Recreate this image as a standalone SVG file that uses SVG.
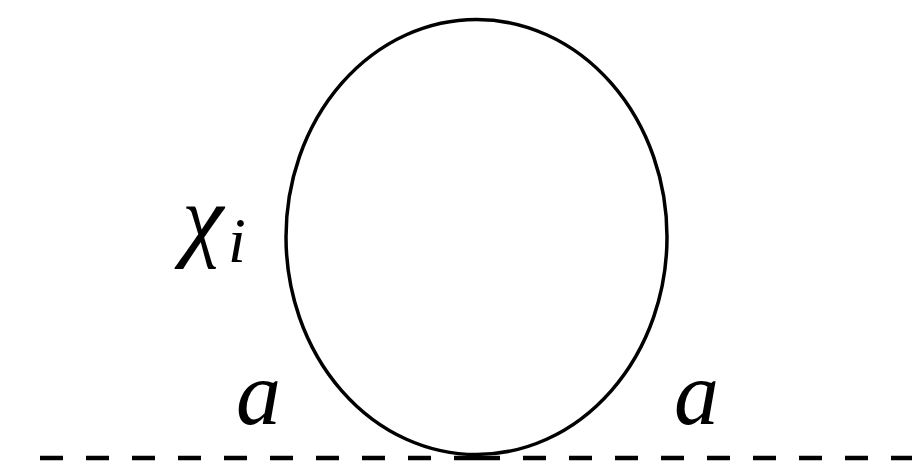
<svg xmlns="http://www.w3.org/2000/svg" width="912" height="463" viewBox="0 0 912 463">
<style>
.lbl{font-family:"Liberation Serif","Times New Roman",serif;font-style:italic;fill:#000}
.dash{stroke:#000;stroke-width:4.5;stroke-dasharray:23 23;fill:none}
</style>
<rect width="912" height="463" fill="#fff"/>
<g id="connectors">
<line class="dash" x1="40" y1="458" x2="477" y2="458"/>
<line class="dash" x1="477" y1="458" x2="912" y2="458"/>
</g>
<g id="loop">
<ellipse cx="476.5" cy="237" rx="190.5" ry="217.5" fill="none" stroke="#000" stroke-width="3.5"/>
</g>
<g id="label-chi">
<text class="lbl" x="182" y="249" font-size="94">χ</text>
<text class="lbl" x="228" y="262" font-size="64">i</text>
</g>
<g id="label-a-left"><text class="lbl" x="236" y="424" font-size="90">a</text></g>
<g id="label-a-right"><text class="lbl" x="674" y="424" font-size="90">a</text></g>
</svg>
